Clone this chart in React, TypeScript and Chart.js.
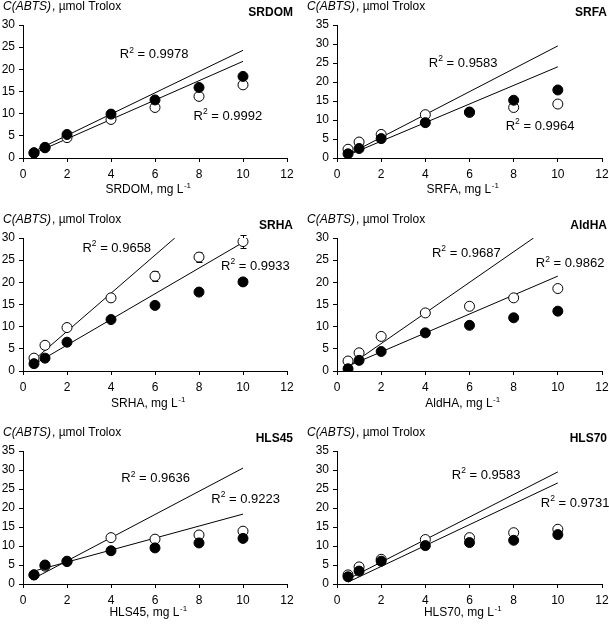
import { useEffect, useRef } from "react";
import { Chart, registerables } from "chart.js";

Chart.register(...registerables);

// ---------- DATA ----------
const concentrations = [0.5, 1, 2, 4, 6, 8, 10];
const xTickMax = 12;

const panelNames = ["SRDOM", "SRFA", "SRHA", "AldHA", "HLS45", "HLS70"];
const yMaxValues = [30, 35, 30, 30, 35, 35];

// filled (black) circles
const srdomFilled = [1.2, 2.4, 5.3, 9.9, 13.1, 15.9, 18.4];
const srfaFilled = [1.1, 2.5, 5.1, 9.3, 12.1, 15.2, 17.9];
const srhaFilled = [1.65, 2.9, 6.5, 11.6, 14.8, 17.8, 20.1];
const aldhaFilled = [0.5, 2.4, 4.4, 8.6, 10.3, 12.0, 13.5];
const hls45Filled = [2.4, 5.0, 5.9, 8.75, 9.5, 10.8, 12.0];
const hls70Filled = [1.9, 3.4, 6.0, 10.1, 10.9, 11.5, 13.0];

// open (white) circles
const srdomOpen = [1.1, 2.3, 4.6, 8.7, 11.4, 13.9, 16.5];
const srfaOpen = [2.3, 4.2, 6.2, 11.4, 12.0, 13.3, 14.2];
const srhaOpen = [2.9, 5.8, 9.8, 16.5, 21.4, 25.7, 29.2];
const aldhaOpen = [2.25, 4.1, 7.8, 13.1, 14.6, 16.5, 18.6];
const hls45Open = [2.4, 4.7, 6.0, 12.2, 11.8, 12.9, 13.9];
const hls70Open = [2.4, 4.5, 6.5, 11.7, 12.2, 13.5, 14.4];

// error bars (± value), only visible where larger than markers
const srhaOpenErr = [0, 0, 0, 0.3, 1.2, 1.2, 1.4];
const srhaFilledErr = [0, 0, 0, 0, 0, 0, 0.7];
const noErr = [0, 0, 0, 0, 0, 0, 0];

// fitted trend lines: [x start, x end] and [y start, y end]
const srdomFitUpperX = [0.5, 10], srdomFitUpperY = [1.5, 24.3];
const srdomFitLowerX = [0.5, 10], srdomFitLowerY = [1.05, 21.8];
const srfaFitUpperX = [0.5, 10], srfaFitUpperY = [0.9, 29.5];
const srfaFitLowerX = [0.5, 10], srfaFitLowerY = [0.75, 24.0];
const srhaFitUpperX = [0.5, 6.9], srhaFitUpperY = [2.5, 30];
const srhaFitLowerX = [0.5, 10], srhaFitLowerY = [1.5, 29.0];
const aldhaFitUpperX = [0.5, 8.9], aldhaFitUpperY = [1.0, 30];
const aldhaFitLowerX = [0.5, 10], aldhaFitLowerY = [1.1, 21.4];
const hls45FitUpperX = [0.5, 10], hls45FitUpperY = [1.5, 30.5];
const hls45FitLowerX = [0.5, 10], hls45FitLowerY = [3.4, 18.4];
const hls70FitUpperX = [0.5, 10], hls70FitUpperY = [1.3, 29.5];
const hls70FitLowerX = [0.5, 10], hls70FitLowerY = [0.5, 26.6];

// R² labels: value text, anchor [x, y] in data units (left, middle)
const srdomR2 = ["0.9978", "0.9992"];
const srfaR2 = ["0.9583", "0.9964"];
const srhaR2 = ["0.9658", "0.9933"];
const aldhaR2 = ["0.9687", "0.9862"];
const hls45R2 = ["0.9636", "0.9223"];
const hls70R2 = ["0.9583", "0.9731"];

const srdomR2Pos = [[4.4, 23.3], [7.75, 9.4]];
const srfaR2Pos = [[4.16, 24.9], [7.64, 8.4]];
const srhaR2Pos = [[2.7, 27.7], [9.0, 23.6]];
const aldhaR2Pos = [[4.3, 26.6], [9.0, 24.2]];
const hls45R2Pos = [[4.47, 27.7], [8.56, 22.3]];
const hls70R2Pos = [[5.2, 28.6], [9.23, 21.3]];

// ---------- LAYOUT ----------
const FONT = "'Liberation Sans', Arial, sans-serif";
const colLeft = [0, 304];
const colWidth = [304, 305];
const yAxisWidth = [23, 33];
const rightPad = [17, 7];
const rowTop = [0, 205, 412];
const rowHeight = [205, 207, 212];
const topPad = [25, 33, 39];
const plotHeight = 133;
const xTitleOffset = [32, 33, 29];

const panels = [
  { filled: srdomFilled, open: srdomOpen, fErr: noErr, oErr: noErr, fits: [[srdomFitUpperX, srdomFitUpperY], [srdomFitLowerX, srdomFitLowerY]], r2: srdomR2, r2Pos: srdomR2Pos },
  { filled: srfaFilled, open: srfaOpen, fErr: noErr, oErr: noErr, fits: [[srfaFitUpperX, srfaFitUpperY], [srfaFitLowerX, srfaFitLowerY]], r2: srfaR2, r2Pos: srfaR2Pos },
  { filled: srhaFilled, open: srhaOpen, fErr: srhaFilledErr, oErr: srhaOpenErr, fits: [[srhaFitUpperX, srhaFitUpperY], [srhaFitLowerX, srhaFitLowerY]], r2: srhaR2, r2Pos: srhaR2Pos },
  { filled: aldhaFilled, open: aldhaOpen, fErr: noErr, oErr: noErr, fits: [[aldhaFitUpperX, aldhaFitUpperY], [aldhaFitLowerX, aldhaFitLowerY]], r2: aldhaR2, r2Pos: aldhaR2Pos },
  { filled: hls45Filled, open: hls45Open, fErr: noErr, oErr: noErr, fits: [[hls45FitUpperX, hls45FitUpperY], [hls45FitLowerX, hls45FitLowerY]], r2: hls45R2, r2Pos: hls45R2Pos },
  { filled: hls70Filled, open: hls70Open, fErr: noErr, oErr: noErr, fits: [[hls70FitUpperX, hls70FitUpperY], [hls70FitLowerX, hls70FitLowerY]], r2: hls70R2, r2Pos: hls70R2Pos },
];

function toPoints(xs: number[], ys: number[]) {
  return xs.map((x, i) => ({ x, y: ys[i] }));
}

function drawR2(ctx: CanvasRenderingContext2D, x: number, y: number, value: string) {
  ctx.font = `13px ${FONT}`;
  ctx.textAlign = "left";
  ctx.textBaseline = "middle";
  ctx.fillStyle = "#000";
  ctx.fillText("R", x, y);
  let cx = x + ctx.measureText("R").width;
  ctx.font = `8.5px ${FONT}`;
  ctx.fillText("2", cx, y - 4.5);
  cx += ctx.measureText("2").width;
  ctx.font = `13px ${FONT}`;
  ctx.fillText(" = " + value, cx, y);
}

function Panel({ index }: { index: number }) {
  const ref = useRef<HTMLCanvasElement>(null);
  const col = index % 2;
  const row = Math.floor(index / 2);
  const w = colWidth[col];
  const h = rowHeight[row];

  useEffect(() => {
    const p = panels[index];
    const name = panelNames[index];
    const textPlugin = {
      id: "panelText" + index,
      beforeDatasetsDraw(chart: any) {
        const ctx = chart.ctx as CanvasRenderingContext2D;
        const xs = chart.scales.x;
        const ys = chart.scales.y;
        ctx.save();
        ctx.strokeStyle = "#000";
        ctx.lineWidth = 1;
        const series = [
          [p.filled, p.fErr],
          [p.open, p.oErr],
        ] as number[][][];
        for (const [vals, errs] of series) {
          vals.forEach((v, i) => {
            const e = errs[i];
            if (!e) return;
            const px = Math.round(xs.getPixelForValue(concentrations[i])) + 0.5;
            const top = Math.round(ys.getPixelForValue(v + e)) + 0.5;
            const bot = Math.round(ys.getPixelForValue(v - e)) + 0.5;
            ctx.beginPath();
            ctx.moveTo(px, top);
            ctx.lineTo(px, bot);
            ctx.moveTo(px - 3, top);
            ctx.lineTo(px + 3, top);
            ctx.moveTo(px - 3, bot);
            ctx.lineTo(px + 3, bot);
            ctx.stroke();
          });
        }
        ctx.restore();
      },
      afterDraw(chart: any) {
        const ctx = chart.ctx as CanvasRenderingContext2D;
        const area = chart.chartArea;
        const xs = chart.scales.x;
        const ys = chart.scales.y;
        ctx.save();
        ctx.fillStyle = "#000";
        ctx.textBaseline = "middle";
        // y-axis title
        const ty = area.top - 18;
        ctx.textAlign = "left";
        ctx.font = `italic 12px ${FONT}`;
        const part1 = "C(ABTS)";
        ctx.fillText(part1, 3, ty);
        const w1 = ctx.measureText(part1).width;
        ctx.font = `12px ${FONT}`;
        ctx.fillText(", µmol Trolox", 3 + w1 + 1, ty);
        // panel label
        ctx.font = `bold 12px ${FONT}`;
        ctx.textAlign = "right";
        ctx.fillText(name, area.right + (col === 0 ? 6 : 5), area.top - 12);
        // x-axis title with superscript
        ctx.font = `12px ${FONT}`;
        const main = name + ", mg L";
        const mw = ctx.measureText(main).width;
        ctx.font = `8px ${FONT}`;
        const sup = "-1";
        const sw = ctx.measureText(sup).width;
        const total = mw + sw;
        const cx = (area.left + area.right) / 2 - 7;
        const yy = area.bottom + xTitleOffset[row];
        ctx.textAlign = "left";
        ctx.font = `12px ${FONT}`;
        ctx.fillText(main, cx - total / 2, yy);
        ctx.font = `8px ${FONT}`;
        ctx.fillText(sup, cx - total / 2 + mw + 0.5, yy - 4);
        // R² labels
        p.r2.forEach((val, i) => {
          const [dx, dy] = p.r2Pos[i];
          drawR2(ctx, xs.getPixelForValue(dx), ys.getPixelForValue(dy), val);
        });
        ctx.restore();
      },
    };

    const tickFont = { family: FONT, size: 12 };
    const chart = new Chart(ref.current as HTMLCanvasElement, {
      type: "scatter",
      data: {
        datasets: [
          {
            label: "filled",
            data: toPoints(concentrations, p.filled),
            pointRadius: 5,
            pointHoverRadius: 5,
            backgroundColor: "#000",
            borderColor: "#000",
            borderWidth: 1,
          },
          {
            label: "open",
            data: toPoints(concentrations, p.open),
            pointRadius: 5,
            pointHoverRadius: 5,
            backgroundColor: "#fff",
            borderColor: "#000",
            borderWidth: 1,
          },
          ...p.fits.map((f, k) => ({
            label: "fit" + k,
            data: toPoints(f[0], f[1]),
            showLine: true,
            pointRadius: 0,
            borderColor: "#000",
            borderWidth: 1,
            fill: false,
          })),
        ],
      } as any,
      options: {
        responsive: false,
        animation: false,
        devicePixelRatio: 1,
        events: [],
        layout: { padding: { left: 0, top: topPad[row], right: rightPad[col], bottom: 0 } },
        plugins: { legend: { display: false }, tooltip: { enabled: false }, title: { display: false } },
        scales: {
          x: {
            type: "linear",
            min: 0,
            max: xTickMax,
            ticks: { stepSize: 2, color: "#000", font: tickFont, padding: 5, maxRotation: 0, autoSkip: false },
            grid: { drawOnChartArea: false, drawTicks: true, tickLength: 4, color: "#000", lineWidth: 1 },
            border: { display: true, color: "#000", width: 1 },
            afterFit: (s: any) => {
              s.height = h - topPad[row] - plotHeight;
              s.paddingLeft = 0;
              s.paddingRight = 0;
            },
          },
          y: {
            type: "linear",
            min: 0,
            max: yMaxValues[index],
            ticks: { stepSize: 5, color: "#000", font: tickFont, padding: 4 },
            grid: { drawOnChartArea: false, drawTicks: true, tickLength: 4, color: "#000", lineWidth: 1 },
            border: { display: true, color: "#000", width: 1 },
            afterFit: (s: any) => {
              s.width = yAxisWidth[col];
              s.paddingTop = 0;
              s.paddingBottom = 0;
            },
          },
        },
      } as any,
      plugins: [textPlugin],
    });
    return () => chart.destroy();
  }, [index]);

  return (
    <canvas
      ref={ref}
      width={w}
      height={h}
      style={{ position: "absolute", left: colLeft[col], top: rowTop[row], width: w, height: h, display: "block" }}
    />
  );
}

export default function App() {
  return (
    <div style={{ position: "absolute", left: 0, top: 0, width: 609, height: 624, background: "#fff" }}>
      {panelNames.map((_, i) => (
        <Panel key={i} index={i} />
      ))}
    </div>
  );
}
